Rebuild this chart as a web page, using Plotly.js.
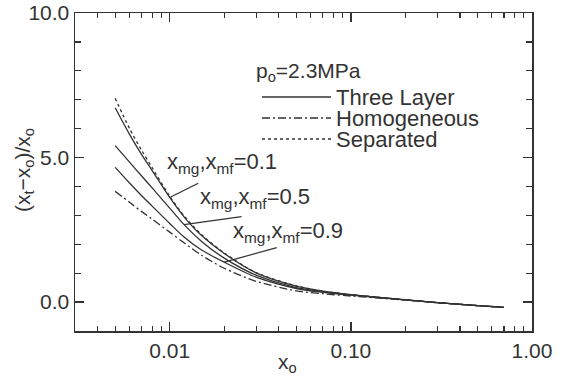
<!DOCTYPE html>
<html><head><meta charset="utf-8">
<script src="https://cdn.plot.ly/plotly-3.0.1.min.js"></script>
<style>html,body{margin:0;padding:0;background:#fff}#chart{width:561px;height:380px}</style>
</head><body><div id="chart"></div>
<script>
// x_o values
const xo = [0.005, 0.006, 0.007, 0.008, 0.01, 0.012, 0.015, 0.02, 0.03, 0.05, 0.07, 0.1, 0.2, 0.3, 0.5, 0.7];
// Three Layer, x_mg,x_mf = 0.1
const threeLayer01 = [6.72, 5.80, 5.10, 4.55, 3.62, 2.95, 2.30, 1.68, 1.01, 0.55, 0.38, 0.26, 0.08, -0.02, -0.12, -0.18];
// Three Layer, x_mg,x_mf = 0.5
const threeLayer05 = [5.41, 4.84, 4.36, 3.95, 3.25, 2.68, 2.10, 1.52, 0.93, 0.50, 0.36, 0.25, 0.08, -0.02, -0.12, -0.18];
// Three Layer, x_mg,x_mf = 0.9
const threeLayer09 = [4.66, 4.12, 3.68, 3.32, 2.72, 2.25, 1.80, 1.38, 0.86, 0.47, 0.34, 0.24, 0.08, -0.02, -0.12, -0.18];
// Homogeneous
const homogeneous = [3.83, 3.45, 3.13, 2.87, 2.42, 2.05, 1.62, 1.17, 0.72, 0.39, 0.29, 0.21, 0.07, -0.02, -0.12, -0.18];
// Separated
const separated = [7.05, 6.00, 5.25, 4.65, 3.66, 2.98, 2.33, 1.70, 1.02, 0.56, 0.38, 0.26, 0.08, -0.02, -0.12, -0.18];

const xTickVals = [0.01, 0.1, 1];
const xTickText = ['0.01', '0.10', '1.00'];
const xMinorVals = [0.004,0.005,0.006,0.007,0.008,0.009,0.02,0.03,0.04,0.05,0.06,0.07,0.08,0.09,0.2,0.3,0.4,0.5,0.6,0.7,0.8,0.9];
const yTickVals = [0, 5, 10];
const yTickText = ['0.0', '5.0', '10.0'];
const curveLabels = ['x<sub>mg</sub>,x<sub>mf</sub>=0.1', 'x<sub>mg</sub>,x<sub>mf</sub>=0.5', 'x<sub>mg</sub>,x<sub>mf</sub>=0.9'];
const legendNames = ['Three Layer', 'Homogeneous', 'Separated'];

const ink = '#333';
const FONT = '"Liberation Sans", Arial, Helvetica, sans-serif';
function tr(y, dash){ return {x: xo, y: y, mode: 'lines', line: {color: ink, width: 1.3, dash: dash, shape: 'spline', smoothing: 0.8}, showlegend: false, hoverinfo: 'skip'}; }
const traces = [
  tr(separated, 'dot'),
  tr(threeLayer01, 'solid'),
  tr(threeLayer05, 'solid'),
  tr(threeLayer09, 'solid'),
  tr(homogeneous, '8px,3px,2px,3px')
];

const W = 561, H = 380, L = 75, R = 29, T = 13, B = 49;
const pw = W - L - R, ph = H - T - B;
const px = v => (v - L) / pw;
const py = v => (H - B - v) / ph;

const annotations = [];
annotations.push({xref:'paper', yref:'paper', x: px(254), y: py(72), xanchor:'left', yanchor:'middle', text:'p<sub>o</sub>=2.3MPa', showarrow:false, font:{size:21, color:ink, family:FONT}});
const legY = [97, 118, 139];
legendNames.forEach((n,i)=>{
  annotations.push({xref:'paper', yref:'paper', x: px(334), y: py(legY[i]), xanchor:'left', yanchor:'middle', text:n, showarrow:false, font:{size:22, color:ink, family:FONT}});
});
const legDash = ['solid', '8px,3px,2px,3px', 'dot'];
const shapes = legDash.map((d,i)=>({type:'line', xref:'paper', yref:'paper', x0: px(262), x1: px(331), y0: py(legY[i]), y1: py(legY[i]), line:{color:ink, width:1.3, dash:d}}));

const labPos = [[165, 163], [198, 198], [231, 232]];
curveLabels.forEach((t,i)=>{
  annotations.push({xref:'paper', yref:'paper', x: px(labPos[i][0]), y: py(labPos[i][1]), xanchor:'left', yanchor:'middle', text:t, showarrow:false, font:{size:22, color:ink, family:FONT}});
});
const leaders = [
  {idx: 4, series: threeLayer01, ax: 30, tail: 183},
  {idx: 5, series: threeLayer05, ax: 59, tail: 217},
  {idx: 7, series: threeLayer09, ax: 54, tail: 248}
];
leaders.forEach(l=>{
  const yv = l.series[l.idx];
  const ypix = 303 - yv * 29;
  annotations.push({x: Math.log10(xo[l.idx]), y: yv, xref:'x', yref:'y', text:' ', showarrow:true, arrowhead:0, arrowwidth:1.2, arrowcolor:ink, ax: l.ax, ay: l.tail - ypix, standoff:0, startstandoff:0, font:{size:1}});
});
annotations.push({xref:'paper', yref:'paper', x: px(287), y: py(363), xanchor:'center', yanchor:'middle', text:'x<sub>o</sub>', showarrow:false, font:{size:21, color:ink, family:FONT}});
annotations.push({xref:'paper', yref:'paper', x: px(24), y: py(170), xanchor:'center', yanchor:'middle', textangle:-90, text:'(x<sub>t</sub>\u2212x<sub>o</sub>)/x<sub>o</sub>', showarrow:false, font:{size:21, color:ink, family:FONT}});

const layout = {
  width: W, height: H,
  margin: {l: L, r: R, t: T, b: B},
  paper_bgcolor: '#fff', plot_bgcolor: '#fff',
  font: {family: FONT, color: ink, size: 21},
  showlegend: false,
  xaxis: {
    type: 'log', range: [Math.log10(0.003), 0],
    tickmode: 'array', tickvals: xTickVals, ticktext: xTickText,
    ticks: 'inside', ticklen: 9, tickwidth: 1.3, tickcolor: ink,
    minor: {tickmode: 'array', tickvals: xMinorVals, ticks: 'inside', ticklen: 5, tickwidth: 1.2, tickcolor: ink},
    showline: true, linecolor: ink, linewidth: 1.5, mirror: 'allticks',
    showgrid: false, zeroline: false
  },
  yaxis: {
    range: [-1, 10],
    tickmode: 'array', tickvals: yTickVals, ticktext: yTickText,
    ticks: 'inside', ticklen: 9, tickwidth: 1.3, tickcolor: ink,
    minor: {dtick: 1, ticks: 'inside', ticklen: 6, tickwidth: 1.2, tickcolor: ink},
    showline: true, linecolor: ink, linewidth: 1.5, mirror: 'allticks',
    showgrid: false, zeroline: false
  }
};
// draw axes and curves first, then add the text notes and legend keys
Plotly.newPlot('chart', traces, layout, {staticPlot: true, displayModeBar: false}).then(gd => {
  return Plotly.relayout(gd, {annotations: annotations, shapes: shapes});
});
</script></body></html>
